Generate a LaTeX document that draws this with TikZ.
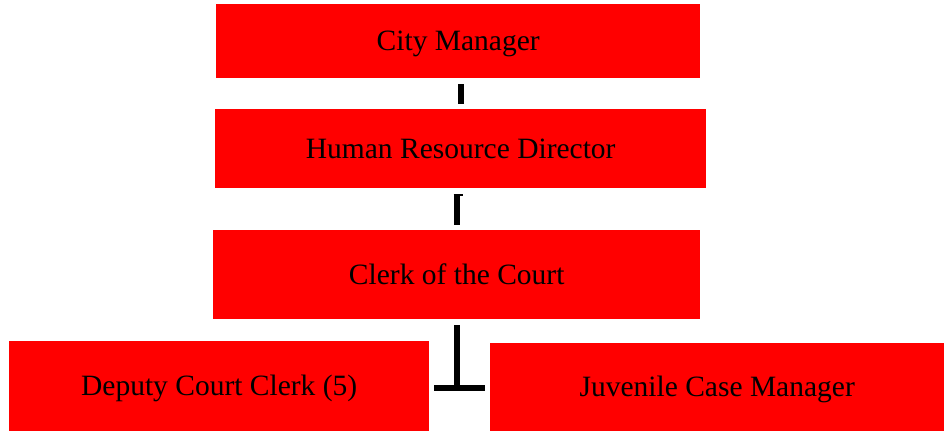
\documentclass[tikz,border=0pt]{standalone}
\usepackage{fontspec}
\setmainfont{Liberation Serif}
\begin{document}
\begin{tikzpicture}[x=1pt,y=1pt,
  orgbox/.style={fill=red, draw=none, inner sep=0pt, anchor=north west,
    font=\fontsize{29.5}{34}\selectfont, text=black,
    text height=20pt, text depth=0.5pt},
  conn/.style={draw=black, line width=6pt}]
\useasboundingbox (0,0) rectangle (944,431);
% boxes: top-left corner, width, height (y measured upward)
\node[orgbox, minimum width=484pt, minimum height=74pt] (b1) at (216,427) {City Manager};
\node[orgbox, minimum width=491pt, minimum height=79pt] (b2) at (215,322) {Human Resource Director};
\node[orgbox, minimum width=487pt, minimum height=89pt] (b3) at (213,201) {Clerk of the Court};
\node[orgbox, minimum width=420pt, minimum height=90pt] (b4) at (9,90) {Deputy Court Clerk (5)};
\node[orgbox, minimum width=454pt, minimum height=88pt] (b5) at (490,88) {Juvenile Case Manager};
% connectors
\draw[conn, shorten <=6pt, shorten >=5pt] (b1.south -| b2.north) -- (b2.north);
\draw[conn, shorten <=6pt, shorten >=5pt] (b2.south -| b3.north) -- (b3.north);
\draw[black, line width=2pt] ([shift={(-3pt,-7pt)}]b2.south -| b3.north) -- ([shift={(6pt,-7pt)}]b2.south -| b3.north);
\coordinate (junc) at (457,43);
\draw[conn, shorten <=6pt] (b3.south -| junc) -- ([yshift=-3pt]junc);
\draw[conn, shorten <=5pt, shorten >=5pt] (b4.east |- junc) -- (b5.west |- junc);
\end{tikzpicture}
\end{document}
